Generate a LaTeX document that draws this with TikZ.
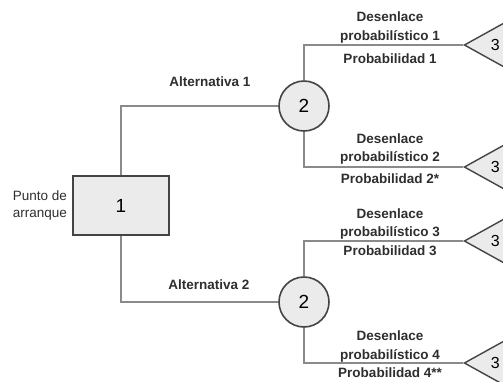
\documentclass[tikz,border=0pt]{standalone}
\usepackage{fontspec}
\setmainfont{Liberation Sans}
\usepackage{xcolor}
\usepackage{tikz}
\usetikzlibrary{positioning,shapes.geometric}

\definecolor{linegray}{HTML}{8A8A8A}
\definecolor{edgegray}{HTML}{444444}
\definecolor{fillgray}{HTML}{EBEBEB}
\definecolor{textgray}{HTML}{2E2E2E}

\begin{document}
\begin{tikzpicture}[x=1pt,y=1pt,
    decisionbox/.style={rectangle,draw=edgegray,fill=fillgray,line width=1.6pt,
        minimum width=96pt,minimum height=59pt,font=\fontsize{19}{20}\selectfont},
    chancenode/.style={circle,draw=edgegray,fill=fillgray,line width=1.6pt,
        minimum size=50pt,inner sep=0pt,font=\fontsize{19}{20}\selectfont},
    endnode/.style={isosceles triangle,isosceles triangle apex angle=58,
        shape border rotate=180,draw=edgegray,fill=fillgray,line width=1.4pt,
        minimum height=43pt,inner sep=0pt,anchor=apex,
        font=\fontsize{16}{17}\selectfont},
    branchlabel/.style={inner sep=0pt,align=center,text=textgray,
        font=\fontsize{13.5}{18.5}\selectfont\bfseries},
    branch/.style={draw=linegray,line width=1.5pt}]
    \useasboundingbox (0,0) rectangle (503,-381);

    \draw (121,-205.5) node (start) [decisionbox] {1};
    \node (startlabel) [left=3pt of start,align=left,inner sep=2pt,text=textgray,
        font=\fontsize{13.5}{17}\selectfont] {Punto de\\arranque};

    \draw (304,-106) node (chance1) [chancenode] {2};
    \draw (304,-302) node (chance2) [chancenode] {2};

    \draw (463,-45) node (end1) [endnode] {3};
    \draw (463,-167) node (end2) [endnode] {3};
    \draw (463,-241) node (end3) [endnode] {3};
    \draw (463,-363) node (end4) [endnode] {3};

    \draw (210,-82) node (alt1) [branchlabel] {Alternativa 1};
    \draw (209,-285) node (alt2) [branchlabel] {Alternativa 2};

    \draw (390,-43) node (out1) [branchlabel,anchor=south] {Desenlace\\probabilístico 1};
    \draw (390,-54) node (prob1) [branchlabel,anchor=north] {Probabilidad 1};
    \draw (390,-164.5) node (out2) [branchlabel,anchor=south] {Desenlace\\probabilístico 2};
    \draw (390,-174) node (prob2) [branchlabel,anchor=north] {Probabilidad 2*};
    \draw (390,-239.5) node (out3) [branchlabel,anchor=south] {Desenlace\\probabilístico 3};
    \draw (390,-246) node (prob3) [branchlabel,anchor=north] {Probabilidad 3};
    \draw (390,-362) node (out4) [branchlabel,anchor=south] {Desenlace\\probabilístico 4};
    \draw (390,-368) node (prob4) [branchlabel,anchor=north] {Probabilidad 4**};

    \draw [branch] (start.north) |- (chance1.west);
    \draw [branch] (start.south) |- (chance2.west);
    \draw [branch] (chance1.north) |- (end1.apex);
    \draw [branch] (chance1.south) |- (end2.apex);
    \draw [branch] (chance2.north) |- (end3.apex);
    \draw [branch] (chance2.south) |- (end4.apex);
\end{tikzpicture}
\end{document}
